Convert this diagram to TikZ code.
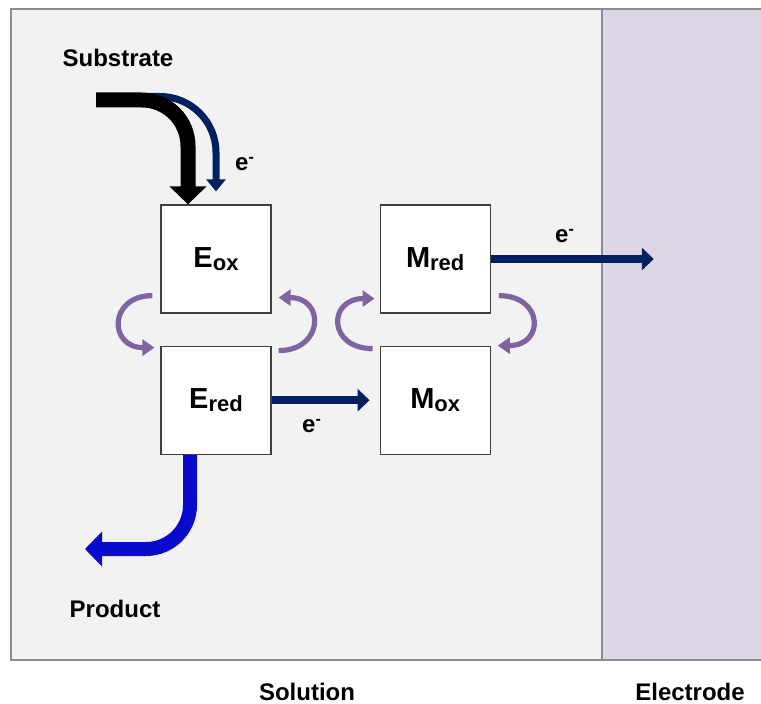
\documentclass[tikz,border=0pt]{standalone}
\usepackage{fontspec}
\setmainfont{Liberation Sans}
\usepackage{tikz}
\usetikzlibrary{arrows.meta, positioning, calc}
\definecolor{sol}{HTML}{F2F2F2}
\definecolor{elec}{HTML}{DCD6E6}
\definecolor{frame}{HTML}{8C8C8C}
\definecolor{navy}{HTML}{002060}
\definecolor{prod}{HTML}{0A0ACC}
\definecolor{cyc}{HTML}{8064A2}
\newcommand{\spc}[2]{#1\raisebox{-1.5pt}{\fontsize{11}{11}\selectfont #2}}

\begin{document}
\begin{tikzpicture}[x=0.5pt, y=0.5pt, font=\bfseries\fontsize{12}{14}\selectfont,
  bx/.style={draw=black!75, fill=white, line width=0.6pt, minimum width=55pt, minimum height=54pt, inner sep=0pt, font=\bfseries\fontsize{14.5}{16}\selectfont},
  el/.style={-{Triangle[length=6pt, width=11pt]}, navy, line width=4pt},
  cy/.style={-{Triangle[length=6pt, width=8pt]}, cyc, line width=2.6pt},
  lb/.style={font=\bfseries\fontsize{12}{12}\selectfont}]
  \useasboundingbox (0,0) rectangle (761,703);
  \fill[white] (0,0) rectangle (761,703);
  \filldraw[fill=sol, draw=frame, line width=1pt] (11,43) rectangle (602,694);
  \filldraw[fill=elec, draw=frame, line width=1pt] (602,43) rectangle (762,694);
  \node[bx] (eox) at (216,444) {\spc{E}{ox}};
  \node[bx, below=16pt of eox] (ered) {\spc{E}{red}};
  \node[bx, right=54pt of eox] (mred) {\spc{M}{red}};
  \node[bx, below=16pt of mred] (mox) {\spc{M}{ox}};
  \node (sub) at (118,645) {Substrate};
  \node (prd) at (115,94) {Product};
  \node (soln) at (307,11) {Solution};
  \node (elc) at (690,11) {Electrode};
  % substrate in, electron to E
  \coordinate (sin) at (96,603);
  \coordinate (ein) at (150,606.5);
  \draw[navy, line width=3.5pt, rounded corners=28pt, -{Triangle[length=6pt, width=9.5pt]}] (ein) -| ($(eox.north)+(0,13)$);
  \draw[black, line width=7.5pt, rounded corners=23pt, -{Triangle[length=9pt, width=18pt]}] (sin) -| ($(eox.north)+(-28,0)$);
  \node[lb] (e1) at (245,539) {e\textsuperscript{-}};
  % product out
  \coordinate (pout) at (85,154);
  \draw[prod, line width=7pt, rounded corners=22pt, -{Triangle[length=8.5pt, width=17pt]}] ($(ered.south)+(-26,0)$) |- (pout);
  % electron transfer
  \draw[el] (ered.east) -- ($(mox.west)+(-10,0)$);
  \node[lb] (e2) at (312,277) {e\textsuperscript{-}};
  \coordinate (etip) at ($(mred.east)+(163,0)$);
  \draw[el] (mred.east) -- (etip);
  \node[lb] (e3) at (565,467) {e\textsuperscript{-}};
  % redox cycles
  \draw[cy] ($(eox.south west)+(-8,18)$) .. controls ($(eox.south west)+(-52,18)$) and ($(ered.north west)+(-52,-2)$) .. ($(ered.north west)+(-6,-2)$);
  \draw[cy] ($(ered.north east)+(7,-5)$) .. controls ($(ered.north east)+(52,-5)$) and ($(eox.south east)+(54,16)$) .. ($(eox.south east)+(7,16)$);
  \draw[cy] ($(mox.north west)+(-7,-3)$) .. controls ($(mox.north west)+(-52,-3)$) and ($(mred.south west)+(-52,15)$) .. ($(mred.south west)+(-5,15)$);
  \draw[cy] ($(mred.south east)+(8,18)$) .. controls ($(mred.south east)+(53,18)$) and ($(mox.north east)+(54,0)$) .. ($(mox.north east)+(7,0)$);
\end{tikzpicture}
\end{document}
